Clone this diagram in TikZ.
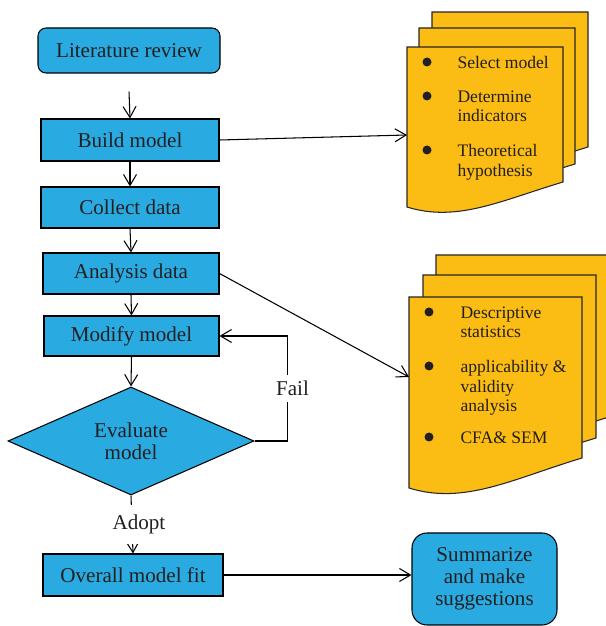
\documentclass[tikz,border=0pt]{standalone}
\usepackage{fontspec}
\setmainfont{Liberation Serif}
\usetikzlibrary{arrows.meta, shapes.geometric, calc}

\definecolor{boxblue}{RGB}{41,171,226}
\definecolor{sheetyellow}{RGB}{251,189,20}
\definecolor{inkgray}{RGB}{35,31,32}

% page with a wavy bottom: top-left x, top-left y, width, left height, right height
\newcommand{\docsheet}[5]{%
  \draw[sheet] (#1,#2) -- ++(#3,0) -- ++(0,-#5)
    .. controls +(-0.4*#3,-0.12*#3) and +(0.32*#3,-0.1*#3) .. (#1,#2-#4) -- cycle;}

\begin{document}
\begin{tikzpicture}[line width=0.6pt, font=\fontsize{12}{12.5}\selectfont, text=inkgray,
    flowbox/.style={draw=black, fill=boxblue, minimum width=3.56cm, minimum height=0.84cm, inner sep=2pt},
    roundbox/.style={flowbox, rounded corners=0.16cm},
    sheet/.style={draw=black!85, fill=sheetyellow},
    dot/.style={circle, fill=inkgray, inner sep=0pt, minimum size=0.18cm},
    item/.style={anchor=north west, align=left, inner sep=0pt, font=\fontsize{10}{11}\selectfont},
    arr/.style={-{Straight Barb[length=0.22cm, width=0.26cm]}}]
    \useasboundingbox (0,0) rectangle (12.12,12.52);

    % flow chain
    \node[roundbox, minimum width=3.64cm, minimum height=0.9cm] (lit) at (2.58,11.51) {Literature review};
    \node[flowbox] (build) at (2.60,9.72) {Build model};
    \node[flowbox, minimum height=0.82cm] (collect) at (2.60,8.37) {Collect data};
    \node[flowbox, minimum width=3.52cm, minimum height=0.82cm] (analysis) at (2.62,7.05) {Analysis data};
    \node[flowbox, minimum width=3.5cm, minimum height=0.8cm] (modify) at (2.63,5.80) {Modify model};
    \node[flowbox, diamond, aspect=2.28, minimum width=4.92cm, minimum height=2.16cm, align=center, inner sep=1pt] (eval) at (2.62,3.70) {Evaluate\\model};
    \node[flowbox, minimum width=3.6cm] (overall) at (2.66,1.02) {Overall model fit};
    \node[roundbox, rounded corners=0.3cm, minimum width=2.9cm, minimum height=1.84cm, align=center] (summ) at (9.69,0.94) {Summarize\\and make\\suggestions};

    % first stack of pages
    \docsheet{8.64}{12.28}{3.12}{3.2}{2.7}
    \docsheet{8.38}{11.96}{3.12}{3.2}{2.72}
    \docsheet{8.14}{11.58}{3.12}{3.2}{2.7}
    \coordinate (sheetA) at (8.14,9.82);
    \node[dot] (a1) at (8.54,11.28) {};
    \node[dot] (a2) at (8.54,10.60) {};
    \node[dot] (a3) at (8.54,9.52) {};
    \node[item] (ta1) at (9.14,11.40) {Select model};
    \node[item] (ta2) at (9.14,10.72) {Determine\\indicators};
    \node[item] (ta3) at (9.14,9.64) {Theoretical\\hypothesis};

    % second stack of pages
    \docsheet{8.72}{7.42}{3.46}{3.82}{3.24}
    \docsheet{8.46}{7.02}{3.46}{3.82}{3.26}
    \docsheet{8.18}{6.58}{3.46}{3.82}{3.22}
    \coordinate (sheetB) at (8.18,4.98);
    \node[dot] (b1) at (8.58,6.28) {};
    \node[dot] (b2) at (8.58,5.20) {};
    \node[dot] (b3) at (8.58,3.78) {};
    \node[item] (tb1) at (9.20,6.40) {Descriptive\\statistics};
    \node[item] (tb2) at (9.20,5.32) {applicability \&\\validity\\analysis};
    \node[item] (tb3) at (9.20,3.90) {CFA\& SEM};

    % connectors
    \draw[arr] ([yshift=-0.36cm]lit.south) -- (build.north);
    \draw[arr] (build.south) -- (collect.north);
    \draw[arr] (collect.south) -- (analysis.north);
    \draw[arr] (analysis.south) -- (modify.north);
    \draw[arr] (modify.south) -- (eval.north);
    \coordinate (loop) at ($(modify.east)+(1.36,0)$);
    \draw[arr] (eval.east) -| node[pos=0.75, fill=white, inner xsep=1pt, inner ysep=0.125cm, xshift=0.1cm] {Fail} (loop) -- (modify.east);
    \draw[arr] (eval.south) -- node[fill=white, inner ysep=0.19cm, xshift=0.14cm] {Adopt} (overall.north);
    \draw[arr] (overall.east) -- (overall.east -| summ.west);
    \draw[arr] (build.east) -- (sheetA);
    \draw[arr] (analysis.east) -- (sheetB);
\end{tikzpicture}
\end{document}
